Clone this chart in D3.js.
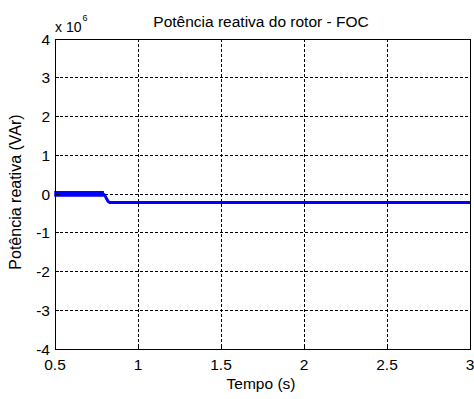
<!DOCTYPE html>
<html>
<head>
<meta charset="utf-8">
<script src="https://cdn.jsdelivr.net/npm/d3@7"></script>
<style>
  body { margin: 0; background: #fff; }
  svg { display: block; font-family: "Liberation Sans", Arial, sans-serif; }
</style>
</head>
<body>
<div class="chart"></div>
<script>
// Data (time in s, power in 10^6 VAr)
const xTicks = [0.5, 1, 1.5, 2, 2.5, 3]
const yTicks = [-4, -3, -2, -1, 0, 1, 2, 3, 4]
// thin steady part after the step
const timeValues = [0.5, 0.79, 0.80, 0.81, 0.82, 0.83, 3.0]
const powerValues = [0, 0, -0.03, -0.12, -0.19, -0.22, -0.22]
// thick ripple band before the step: [t, low, high]
const rippleTime = [0.5, 0.79]
const rippleLow = [-0.05, -0.05]
const rippleHigh = [0.06, 0.06]

const width = 474
const height = 399
const margin = {top: 39, right: 4, bottom: 50, left: 55}
const fs = 15.5

const svg = d3.select(".chart").append("svg")
    .attr("width", width)
    .attr("height", height)

const x = d3.scaleLinear().domain([0.5, 3]).range([margin.left, width - margin.right])
const y = d3.scaleLinear().domain([-4, 4]).range([height - margin.bottom, margin.top])

// grid
svg.append("g")
    .selectAll("line")
    .data(xTicks.slice(1, -1))
    .join("line")
    .attr("x1", d => x(d)).attr("x2", d => x(d))
    .attr("y1", y(4)).attr("y2", y(-4))
    .attr("stroke", "#000")
    .attr("stroke-dasharray", "3,2")
    .attr("shape-rendering", "crispEdges")

svg.append("g")
    .selectAll("line")
    .data(yTicks.slice(1, -1))
    .join("line")
    .attr("x1", x(0.5)).attr("x2", x(3))
    .attr("y1", d => y(d)).attr("y2", d => y(d))
    .attr("stroke", "#000")
    .attr("stroke-dasharray", "3,2")
    .attr("shape-rendering", "crispEdges")

// ripple band
const rows = rippleTime.map((t, i) => ({t, lo: rippleLow[i], hi: rippleHigh[i]}))
svg.append("path")
    .datum(rows)
    .attr("fill", "#0000ff")
    .attr("stroke", "#0000ff")
    .attr("stroke-width", 1.5)
    .attr("d", d3.area().x(d => x(d.t)).y0(d => y(d.lo)).y1(d => y(d.hi)))

// main line
svg.append("path")
    .datum(timeValues.map((t, i) => [t, powerValues[i]]))
    .attr("fill", "none")
    .attr("stroke", "#0000ff")
    .attr("stroke-width", 3)
    .attr("d", d3.line().x(d => x(d[0])).y(d => y(d[1])))

// frame
svg.append("rect")
    .attr("x", x(0.5)).attr("y", y(4))
    .attr("width", x(3) - x(0.5)).attr("height", y(-4) - y(4))
    .attr("fill", "none")
    .attr("stroke", "#000")
    .attr("shape-rendering", "crispEdges")

// tick marks (inside) and labels
const xAxis = svg.append("g")
xAxis.selectAll("line")
    .data(xTicks)
    .join("line")
    .attr("x1", d => x(d)).attr("x2", d => x(d))
    .attr("y1", y(-4)).attr("y2", y(-4) - 4)
    .attr("stroke", "#000")
    .attr("shape-rendering", "crispEdges")
xAxis.selectAll("text")
    .data(xTicks)
    .join("text")
    .attr("x", d => x(d))
    .attr("y", y(-4) + 21)
    .attr("text-anchor", "middle")
    .attr("font-size", fs)
    .text(d => d)

const yAxis = svg.append("g")
yAxis.selectAll("line")
    .data(yTicks)
    .join("line")
    .attr("x1", x(0.5)).attr("x2", x(0.5) + 4)
    .attr("y1", d => y(d)).attr("y2", d => y(d))
    .attr("stroke", "#000")
    .attr("shape-rendering", "crispEdges")
yAxis.selectAll("text")
    .data(yTicks)
    .join("text")
    .attr("x", x(0.5) - 5)
    .attr("y", d => y(d) + 5.5)
    .attr("text-anchor", "end")
    .attr("font-size", fs)
    .text(d => d)

// exponent
const ex = svg.append("text")
    .attr("x", x(0.5))
    .attr("y", 32)
    .attr("font-size", 14)
ex.append("tspan").text("x 10")
ex.append("tspan").attr("dy", -11).attr("dx", 1).attr("font-size", 9).text("6")

// title and axis labels
svg.append("text")
    .attr("x", 261)
    .attr("y", 27)
    .attr("text-anchor", "middle")
    .attr("font-size", fs)
    .text("Potência reativa do rotor - FOC")

svg.append("text")
    .attr("x", 261)
    .attr("y", 389)
    .attr("text-anchor", "middle")
    .attr("font-size", fs)
    .text("Tempo (s)")

svg.append("text")
    .attr("transform", `translate(21,192) rotate(-90)`)
    .attr("text-anchor", "middle")
    .attr("font-size", 16)
    .text("Potência reativa (VAr)")
</script>
</body>
</html>
